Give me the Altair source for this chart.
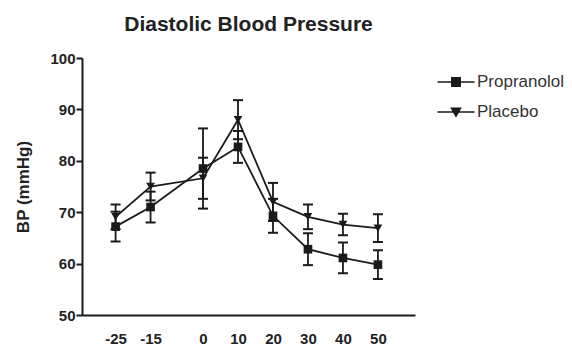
import altair as alt
import pandas as pd

# Time points (weeks) and group summaries: mean diastolic BP and error (mmHg)
weeks = [-25, -15, 0, 10, 20, 30, 40, 50]
groups = ["Propranolol", "Placebo"]
propranolol_mean = [67.2, 71.0, 78.5, 82.7, 69.3, 62.8, 61.1, 59.8]
propranolol_err = [2.9, 3.0, 7.8, 3.1, 3.3, 3.1, 3.0, 2.8]
placebo_mean = [69.1, 75.0, 76.6, 88.0, 72.0, 69.1, 67.6, 66.9]
placebo_err = [2.4, 2.7, 4.0, 3.8, 3.7, 2.4, 2.1, 2.7]
y_ticks = [50, 60, 70, 80, 90, 100]

rows = []
for name, means, errs in [
    ("Propranolol", propranolol_mean, propranolol_err),
    ("Placebo", placebo_mean, placebo_err),
]:
    for w, m, e in zip(weeks, means, errs):
        rows.append({"week": w, "group": name, "bp": m, "lo": m - e, "hi": m + e})
df = pd.DataFrame(rows)

INK = "#1a1a1a"
FONT = "Liberation Sans Narrow, Liberation Sans, Arial"
Y_TITLE = "BP (mmHg)"

x_enc = alt.X(
    "week:Q",
    title=None,
    scale=alt.Scale(domain=[-34.6, 60.6], nice=False, zero=False),
    axis=alt.Axis(values=weeks, labelExpr="'' + datum.value"),
)
y_scale = alt.Scale(domain=[50, 100], nice=False, zero=False)

base = alt.Chart(df).encode(x=x_enc)

lines = base.mark_line(color=INK, strokeWidth=1.8).encode(
    y=alt.Y("bp:Q", scale=y_scale, title=Y_TITLE, axis=alt.Axis(values=y_ticks)),
    detail="group:N",
)

whiskers = base.mark_rule(color=INK, strokeWidth=1.8).encode(
    y=alt.Y("lo:Q", scale=y_scale, title=Y_TITLE),
    y2="hi:Q",
)
caps_lo = base.mark_tick(orient="horizontal", color=INK, size=10, thickness=2, opacity=1).encode(
    y=alt.Y("lo:Q", scale=y_scale, title=Y_TITLE)
)
caps_hi = base.mark_tick(orient="horizontal", color=INK, size=10, thickness=2, opacity=1).encode(
    y=alt.Y("hi:Q", scale=y_scale, title=Y_TITLE)
)

points = base.mark_point(filled=True, opacity=1, color=INK, size=75).encode(
    y=alt.Y("bp:Q", scale=y_scale, title=Y_TITLE),
    shape=alt.Shape(
        "group:N",
        scale=alt.Scale(domain=groups, range=["square", "triangle-down"]),
        legend=None,
    ),
)

# Legend entries drawn as a line stub with the group's marker in the middle
legend_paths = [
    "M-1.85,0H1.85M-0.42,-0.42H0.42V0.42H-0.42Z",
    "M-1.85,0H1.85M-0.45,-0.38H0.45L0,0.42Z",
]
legend_layer = (
    base.mark_point(filled=False, opacity=1, fill=INK, stroke=INK, strokeWidth=1.5)
    .encode(
        y=alt.Y("bp:Q", scale=y_scale, title=Y_TITLE),
        shape=alt.Shape(
            "group:N",
            scale=alt.Scale(domain=groups, range=legend_paths),
            legend=alt.Legend(
                title=None,
                orient="none",
                legendX=363,
                legendY=13,
                symbolSize=400,
                symbolStrokeWidth=1.5,
                labelFont=FONT,
                labelFontSize=17,
                labelColor="#333",
                labelOffset=10,
                rowPadding=11,
                padding=0,
            ),
        ),
    )
    .transform_filter("false")
)

chart = (
    alt.layer(whiskers, caps_lo, caps_hi, lines, points, legend_layer)
    .resolve_scale(shape="independent")
    .properties(
        width=333,
        height=257,
        title=alt.TitleParams(
            "Diastolic Blood Pressure",
            font="Liberation Sans, Arial",
            fontSize=21,
            fontWeight="bold",
            color="#222",
            anchor="middle",
            offset=16,
        ),
        autosize=alt.AutoSizeParams(type="none"),
        padding={"left": 82, "top": 58, "right": 157, "bottom": 40},
    )
    .configure_view(stroke=None)
    .configure_axis(
        grid=False,
        domainColor=INK,
        domainWidth=2,
        labelFont=FONT,
        labelFontWeight="bold",
        labelFontSize=15,
        labelColor="#222",
        titleFont="Liberation Sans, Arial",
        titleFontWeight="bold",
        titleFontSize=17,
        titleColor="#222",
    )
    .configure_axisX(ticks=False, labelPadding=16)
    .configure_axisY(ticks=True, tickSize=6, tickWidth=2, tickColor=INK, labelPadding=1, titlePadding=17)
)

chart.save("out.html", embed_options={"renderer": "svg", "actions": False})
